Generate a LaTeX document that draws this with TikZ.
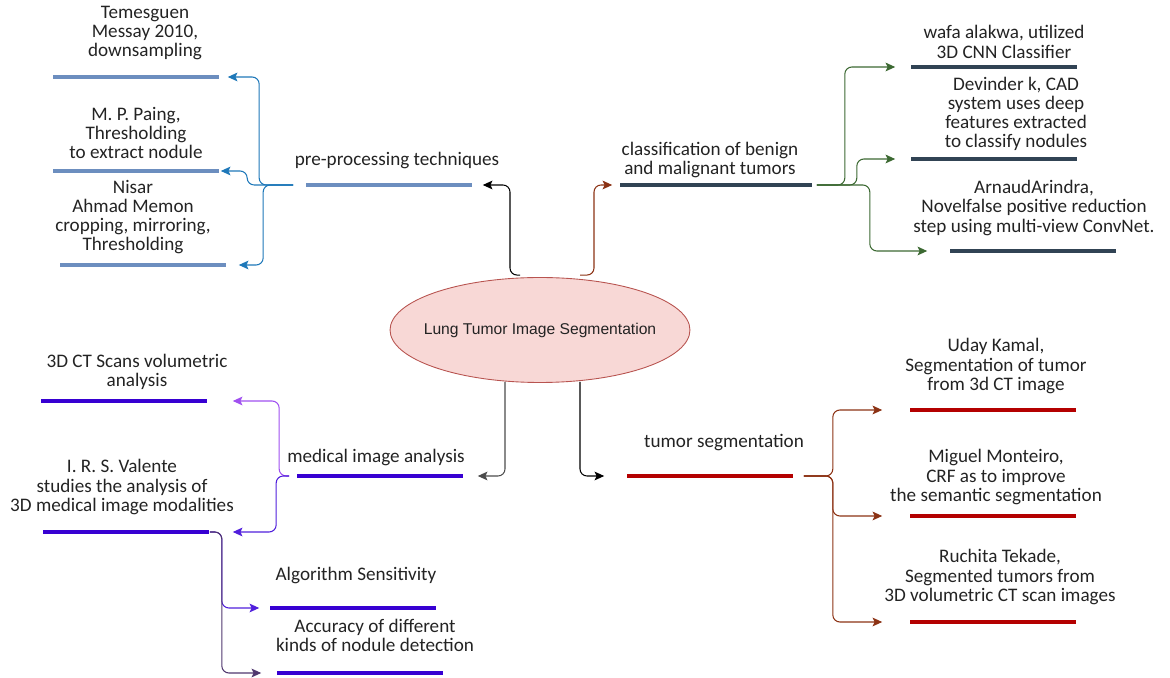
\documentclass[tikz,border=0pt]{standalone}
\usepackage{fontspec}
\setmainfont{Carlito}
\newfontfamily\ellfont{Liberation Sans}
\usetikzlibrary{arrows.meta,calc,shapes.geometric}
\definecolor{txt}{RGB}{35,35,35}
\definecolor{ellfill}{RGB}{248,216,214}
\definecolor{elldraw}{RGB}{184,84,80}
\definecolor{cpre}{RGB}{108,142,191}
\definecolor{cblue}{RGB}{30,120,185}
\definecolor{ccls}{RGB}{49,67,84}
\definecolor{cgreen}{RGB}{60,105,50}
\definecolor{cbrown}{RGB}{140,50,20}
\definecolor{cred}{RGB}{180,0,0}
\definecolor{cviol}{RGB}{55,0,210}
\definecolor{clpur}{RGB}{160,80,240}
\definecolor{cvio2}{RGB}{80,30,220}
\definecolor{cdpur}{RGB}{80,55,110}
\begin{document}
\begin{tikzpicture}[x=0.02cm, y=-0.02cm,
  every node/.append style={text=txt, align=center, font=\fontsize{10.9}{10.9}\selectfont},
  bar/.style={fill=#1, minimum width=3.34cm, minimum height=1.9pt, inner sep=0pt},
  conn/.style={draw=#1, line width=0.6pt, rounded corners=4pt, -{Stealth[length=5.5pt,width=5pt,inset=1.2pt]}},
  rootell/.style={ellipse, fill=ellfill, draw=elldraw, line width=0.5pt, minimum width=6cm, minimum height=2.1cm, inner sep=0pt}]
  \useasboundingbox (0,0) rectangle (1170,678);
  \node[rootell] (root) at (540,330) {};
  \node[font=\ellfont\fontsize{8.9}{10}\selectfont] (troot) at (root.center) {Lung Tumor Image Segmentation};
  % pre-processing
  \node[bar=cpre] (pre) at (389,185) {};  \node (tpre) at (397,161) {pre-processing techniques};
  \node[bar=cpre] (p1) at (136,77) {};    \node (tp1) at (145,33) {Temesguen\\Messay 2010,\\downsampling};
  \node[bar=cpre] (p2) at (136,171) {};   \node (tp2) at (136,133) {M. P. Paing,\\Thresholding\\to extract nodule};
  \node[bar=cpre] (p3) at (143,265) {};   \node (tp3) at (133,217) {Nisar\\Ahmad Memon\\cropping, mirroring,\\Thresholding};
  % classification
  \node[bar=ccls, minimum width=3.86cm] (cls) at (716,185) {}; \node (tcls) at (710,160) {classification of benign\\and malignant tumors};
  \node[bar=ccls] (c1) at (994,67) {};    \node (tc1) at (1004,42) {wafa alakwa, utilized\\3D CNN Classifier};
  \node[bar=ccls] (c2) at (994,159) {};   \node (tc2) at (1016,114) {Devinder k, CAD\\system uses deep\\features extracted\\to classify nodules};
  \node[bar=ccls] (c3) at (1033,251) {};  \node (tc3) at (1034,208) {ArnaudArindra,\\Novelfalse positive reduction\\step using multi-view ConvNet.};
  % medical image analysis
  \node[bar=cviol] (med) at (380,476) {}; \node (tmed) at (376,457) {medical image analysis};
  \node[bar=cviol] (m1) at (124,401) {};  \node (tm1) at (137,372) {3D CT Scans volumetric\\analysis};
  \node[bar=cviol] (m2) at (126,532) {};  \node (tm2) at (122,487) {I. R. S. Valente\\studies the analysis of\\3D medical image modalities};
  \node[bar=cviol] (m3) at (353,608) {};  \node (tm3) at (356,575) {Algorithm Sensitivity};
  \node[bar=cviol] (m4) at (360,673) {};  \node (tm4) at (375,635) {Accuracy of different\\kinds of nodule detection};
  % tumor segmentation
  \node[bar=cred] (seg) at (710,476) {};  \node (tseg) at (724,443) {tumor segmentation};
  \node[bar=cred] (s1) at (993,410) {};   \node (ts1) at (996,366) {Uday Kamal,\\Segmentation of tumor\\from 3d CT image};
  \node[bar=cred] (s2) at (993,516) {};   \node (ts2) at (996,477) {Miguel Monteiro,\\CRF as to improve\\the semantic segmentation};
  \node[bar=cred] (s3) at (993,622) {};   \node (ts3) at (1000,577) {Ruchita Tekade,\\Segmented tumors from\\3D volumetric CT scan images};

  % from the root
  \draw[conn=black] ($(root.north)+(-20,-2)$) -- ++(-10,0) |- ($(pre.east)+(10,0)$);
  \draw[conn=cbrown] ($(root.north)+(40,-2)$) -- ++(14,0) |- ($(cls.west)+(-7,0)$);
  \draw[conn=black!70] ($(root.south)+(-35,-1)$) |- ($(med.east)+(14,0)$);
  \draw[conn=black] ($(root.south)+(40,-1)$) |- ($(seg.west)+(-22,0)$);
  % branches
  \foreach \n/\d/\g in {p1/34/8, p2/46/1, p3/30/12}
    \draw[conn=cblue] ($(pre.west)+(-12,0)$) -- ++(-\d,0) |- ($(\n.east)+(\g,0)$);
  \foreach \n/\d/\g in {c1/28/15, c2/40/15, c3/53/22}
    \draw[conn=cgreen] ($(cls.east)+(4,0)$) -- ++(\d,0) |- ($(\n.west)+(-\g,0)$);
  \foreach \n in {s1, s2, s3}
    \draw[conn=cbrown] ($(seg.east)+(10,0)$) -- ++(29,0) |- ($(\n.west)+(-27,0)$);
  \draw[conn=clpur] ($(med.west)+(-7,0)$) -- ++(-10,0) |- ($(m1.east)+(25,0)$);
  \draw[conn=cvio2] ($(med.west)+(-7,0)$) -- ++(-13,0) |- ($(m2.east)+(23,0)$);
  \draw[conn=cvio2] (m2.east) -- ++(12,0) |- ($(m3.west)+(-10,0)$);
  \draw[conn=cdpur] (m2.east) -- ++(12,0) |- ($(m4.west)+(-15,0)$);
\end{tikzpicture}
\end{document}
